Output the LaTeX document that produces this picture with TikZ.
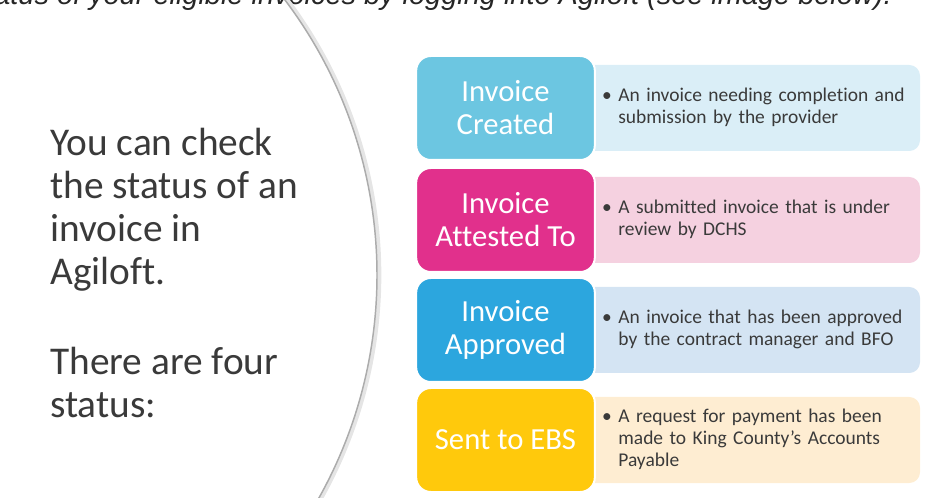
\documentclass[tikz,border=0pt]{standalone}
\usepackage{fontspec}
\setmainfont{Carlito}[Ligatures=CommonOff]
\newfontfamily\pagefont{Liberation Sans}
\usetikzlibrary{positioning}
\definecolor{createdfill}{HTML}{6CC6E1}
\definecolor{createdback}{HTML}{DAEEF7}
\definecolor{attestedfill}{HTML}{E1308C}
\definecolor{attestedback}{HTML}{F5D1E0}
\definecolor{approvedfill}{HTML}{2CA6DE}
\definecolor{approvedback}{HTML}{D4E4F3}
\definecolor{sentfill}{HTML}{FFC90C}
\definecolor{sentback}{HTML}{FEEDD2}
\definecolor{bodytext}{HTML}{3A3A3A}
\tikzstyle{statusbox}=[rectangle,rounded corners=11pt,draw=white,line width=1.5pt,minimum width=134pt,minimum height=78pt,inner sep=0pt,align=center,text=white,font=\fontsize{23}{24.75}\selectfont]
\tikzstyle{infobox}=[rectangle,rounded corners=8pt,minimum width=252pt,minimum height=64.5pt,text width=225pt,inner xsep=13.5pt,inner ysep=0pt,align=left,text=bodytext,font=\fontsize{14.6}{16.5}\selectfont]
\tikzstyle{arcline}=[line width=1.1pt,gray!65]

\begin{document}
\begin{tikzpicture}[x=0.75pt, y=-0.75pt]

  \useasboundingbox (0,0) rectangle (938,498);

  \begin{scope}
    \clip (0,0) rectangle (938,498);
    % line of the page above, cut off at the top
    \node[anchor=base east, inner sep=0pt, text=black!85, font=\pagefont\itshape\fontsize{21.7}{24}\selectfont] (pageline) at (892,4.5) {status of your eligible invoices by logging into Agiloft (see image below).};
    % the big arc with its soft shadow
    \draw[line width=3.5pt, gray!20] (-78,275) ++(-40:457) arc[start angle=-40, end angle=32, radius=457];
    \draw[arcline] (-80,275) ++(-40:457) arc[start angle=-40, end angle=32, radius=457];
  \end{scope}

  \node[anchor=north west, inner sep=0pt, align=left, text=bodytext, font=\fontsize{29.5}{32.25}\selectfont] (intro) at (50,128)
    {You can check\\the status of an\\invoice in\\Agiloft.\\[35pt]There are four\\status:};

  \foreach \name/\y/\title/\desc in {
      created/108/{Invoice\\Created}/{An invoice needing completion and\\submission by the provider},
      attested/220/{Invoice\\Attested To}/{A submitted invoice that is under\\review by DCHS},
      approved/330/{Invoice\\Approved}/{An invoice that has been approved\\by the contract manager and BFO},
      sent/440/{Sent to EBS}/{A request for payment has been\\made to King County's Accounts\\Payable}}
  {
    \node[infobox, fill=\name back] (\name info) at (752,\y)
      {\rlap{\textbullet\hspace{5pt}\begin{tabular}[t]{@{}l@{}}\desc\end{tabular}}};
    \node[statusbox, fill=\name fill] (\name) at (505.5,\y) {\title};
  }

\end{tikzpicture}
\end{document}
